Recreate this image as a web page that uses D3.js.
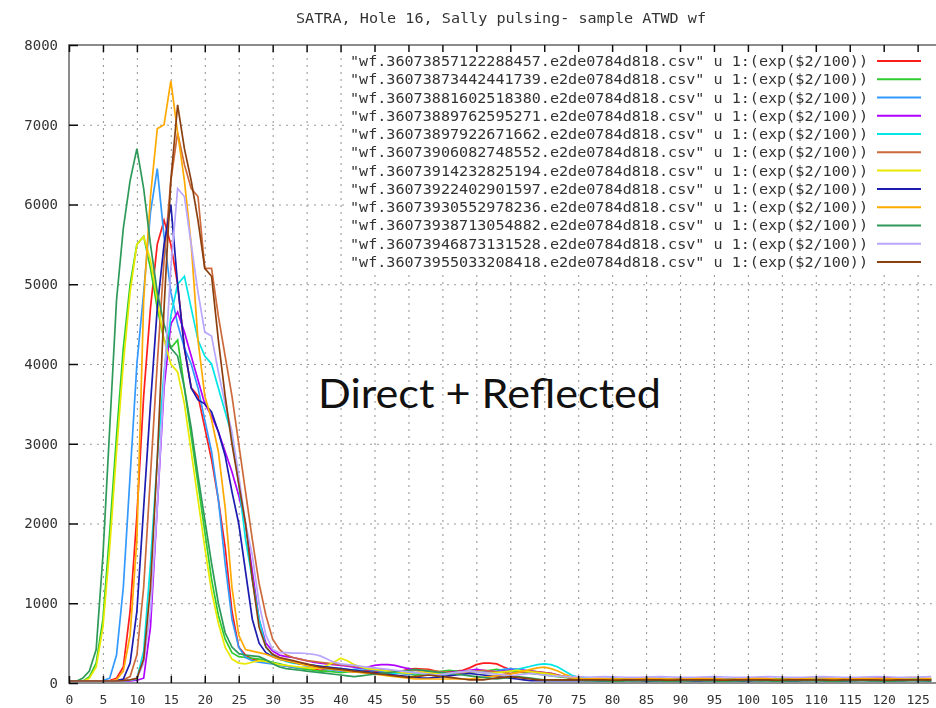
<!DOCTYPE html>
<html>
<head>
<meta charset="utf-8">
<script src="https://cdn.jsdelivr.net/npm/d3@7"></script>
<style>
  html, body { margin: 0; padding: 0; background: #fff; }
  svg { display: block; }
</style>
</head>
<body>
<svg id="chart" width="936" height="708"></svg>
<script>
// Tick positions for the two axes
const sampleTicks = d3.range(0, 126, 5);
const countTicks = d3.range(0, 8001, 1000);

const titleText = "SATRA, Hole 16, Sally pulsing- sample ATWD wf";
const noteText = "Direct + Reflected";

// Legend entries, one per waveform file
const fileNames = [
  "wf.36073857122288457.e2de0784d818.csv",
  "wf.36073873442441739.e2de0784d818.csv",
  "wf.36073881602518380.e2de0784d818.csv",
  "wf.36073889762595271.e2de0784d818.csv",
  "wf.36073897922671662.e2de0784d818.csv",
  "wf.36073906082748552.e2de0784d818.csv",
  "wf.36073914232825194.e2de0784d818.csv",
  "wf.36073922402901597.e2de0784d818.csv",
  "wf.36073930552978236.e2de0784d818.csv",
  "wf.36073938713054882.e2de0784d818.csv",
  "wf.36073946873131528.e2de0784d818.csv",
  "wf.36073955033208418.e2de0784d818.csv"
];
const usingSpec = "u 1:(exp($2/100))";

const seriesColors = [
  "#ff1a1a", "#2ecc2e", "#3399ff", "#b000ff", "#00e5e5", "#cd6a3a",
  "#e8e800", "#1a1ab0", "#ffaa00", "#2e9a5a", "#b9a6ff", "#8b4010"
];

// ATWD samples 0..127, value = exp(adc/100)
const wf01 = [20,20,20,20,20,20,30,60,
  200,900,2100,3600,4700,5500,5800,5500,5000,4200,3700,3600,3200,2800,2300,1700,900,450,350,300,280,270,
  250,230,210,200,190,180,170,160,170,180,160,150,140,150,160,150,140,130,140,150,170,180,175,170,150,130,140,150,160,190,230,250,250,240,200,170,150,140,130,120,110,100,90,80,70,60,
  55,50,50,45,45,50,55,50,45,40,40,45,50,55,60,55,50,45,40,40,45,50,50,55,60,65,60,55,50,45,45,50,55,60,60,55,50,50,45,45,50,55,60,65,70,65,60,55,50,50,45,45];
const wf02 = [20,20,20,80,250,800,
  1900,3100,4200,5000,5500,5600,5200,4700,4300,4200,4300,3700,3100,2500,1900,1300,850,550,380,330,320,310,300,280,
  260,240,220,200,180,170,160,150,150,140,130,140,150,140,130,120,110,120,130,120,110,100,110,120,130,150,160,150,140,130,140,150,160,170,160,150,140,130,120,110,100,90,80,70,60,55,
  50,45,45,40,40,45,50,45,40,35,35,40,45,50,45,40,35,35,40,45,50,45,40,35,35,40,45,50,55,50,45,40,35,35,40,45,50,45,40,35,35,40,45,50,55,50,45,40,40,45,50,55];
const wf03 = [20,20,20,20,20,30,
  60,350,1200,2600,4000,4900,5900,6450,5600,4900,4500,4200,4000,3700,3300,2900,2300,1500,800,450,320,280,260,250,
  240,220,210,200,190,200,210,190,170,160,150,160,170,180,170,160,150,140,130,120,110,120,130,120,110,100,110,120,130,140,150,140,130,150,170,180,170,160,150,140,120,100,90,80,70,60,
  55,50,50,55,60,55,50,45,45,50,55,60,55,50,45,45,50,55,60,60,55,50,45,45,50,55,50,45,40,40,45,50,55,55,50,45,45,50,55,60,55,50,45,45,50,55,60,55,50,45,45,50];
const wf04 = [20,20,20,20,20,20,20,20,20,25,35,
  60,700,2200,3700,4500,4650,4400,4100,3800,3500,3350,3150,2900,2650,2350,2000,1400,800,500,
  400,350,330,320,300,280,260,250,240,230,220,210,200,190,200,220,230,230,220,200,180,160,150,140,130,120,130,140,150,160,170,160,150,140,150,160,170,160,150,140,130,120,100,80,60,50,
  45,40,40,35,35,40,45,40,35,30,30,35,40,45,40,35,30,30,35,40,45,40,35,30,30,35,40,45,40,35,30,30,35,40,45,40,35,30,30,35,40,45,40,35,30,30,35,40,45,40,35,30];
const wf05 = [20,20,20,20,20,20,20,20,25,35,
  50,400,1500,2800,3900,4600,5000,5100,4700,4300,4100,4000,3700,3400,3100,2500,1800,1300,800,450,
  350,300,270,250,240,230,220,210,200,190,180,170,160,150,140,130,120,110,120,130,140,130,120,110,100,110,120,130,140,150,140,130,120,130,140,150,170,190,210,230,240,230,200,150,100,70,
  60,55,50,45,40,40,45,50,55,60,55,50,45,40,40,45,50,55,50,45,40,40,45,50,55,60,55,50,45,40,40,45,50,55,50,45,40,40,45,50,55,60,55,50,45,40,40,45,50,55,50,45];
const wf06 = [20,20,20,20,20,20,20,25,40,
  80,350,1200,2600,4000,5300,6300,6900,6500,6200,6100,5200,5200,4600,4100,3600,3000,2400,1800,1250,850,550,420,350,320,300,
  280,270,260,250,240,230,220,210,200,190,180,170,160,150,140,150,160,170,160,150,140,130,120,130,140,150,160,150,140,130,120,130,140,150,140,130,120,100,80,60,50,
  45,40,40,45,50,45,40,35,35,40,45,50,45,40,35,35,40,45,50,45,40,35,35,40,45,50,45,40,35,35,40,45,50,45,40,35,35,40,45,50,45,40,35,35,40,45,50,45,40,35,35,40];
const wf07 = [20,20,20,60,200,700,
  1700,2900,4000,4900,5500,5600,5300,4800,4300,4000,3900,3500,2900,2300,1700,1150,750,450,300,250,240,260,280,270,
  250,230,220,210,200,190,180,190,220,260,310,280,230,200,180,170,160,150,140,130,120,130,140,130,120,110,120,130,140,150,140,130,120,130,140,150,160,150,140,130,120,110,90,80,70,60,
  50,45,40,40,45,50,45,40,35,35,40,45,50,45,40,35,35,40,45,50,45,40,35,35,40,45,50,45,40,35,35,40,45,50,45,40,35,35,40,45,50,45,40,35,35,40,45,50,45,40,35,35];
const wf08 = [20,20,20,20,20,20,20,30,
  50,250,900,2200,3500,4700,5500,6000,5000,4200,3700,3550,3500,3400,3150,2850,2400,2000,1400,800,500,380,330,300,280,260,240,
  230,220,210,200,190,180,170,160,150,140,130,120,110,100,90,80,70,60,60,70,80,90,100,110,120,110,100,90,80,70,60,50,40,30,30,30,30,30,30,30,30,
  30,30,25,25,30,30,35,30,30,25,25,30,30,35,30,30,25,25,30,30,35,30,30,25,25,30,30,35,30,30,25,25,30,30,35,30,30,25,25,30,30,35,30,30,25,25,30,30,35,30,30,25];
const wf09 = [20,20,20,20,20,20,25,
  40,150,600,1800,4800,6100,6950,7000,7550,6900,6300,5500,4300,3600,3300,2900,2200,1200,600,420,400,380,360,
  330,300,280,260,240,220,200,190,180,170,160,150,140,130,120,110,100,90,80,70,60,50,50,50,50,50,50,50,50,50,60,70,80,90,100,110,130,150,170,190,200,180,150,110,80,60,
  50,55,60,55,50,45,50,55,60,65,60,55,50,45,50,55,60,65,60,55,50,45,50,55,60,65,60,55,50,45,50,55,60,65,70,65,60,55,50,55,60,65,60,55,50,55,60,65,70,65,60,55];
const wf10 = [20,20,60,150,420,
  1600,3200,4800,5700,6300,6700,6200,5500,4900,4500,4200,4100,3700,3200,2600,2050,1500,1000,630,450,370,350,340,330,290,
  240,200,180,170,160,150,140,130,120,110,100,90,80,90,100,110,120,130,140,150,160,170,160,150,140,130,120,110,100,90,80,70,60,50,60,70,80,70,60,50,40,40,40,40,40,40,
  30,30,25,25,20,20,25,25,30,30,25,25,20,20,25,25,30,30,25,25,20,20,25,25,30,30,25,25,20,20,25,25,30,30,25,25,20,20,25,25,30,30,25,25,20,20,25,25,30,30,25,25];
const wf11 = [20,20,20,20,20,20,20,20,25,35,
  60,250,900,2200,3800,5200,6200,6100,5500,4900,4400,4350,3900,3500,3150,2600,2000,1600,1000,600,
  420,380,380,375,375,370,360,340,300,260,240,230,220,210,200,190,180,170,160,150,140,130,120,110,100,110,120,130,140,150,140,130,120,110,100,90,100,110,120,110,100,90,85,80,80,80,
  75,75,78,80,78,75,72,70,72,75,78,80,78,75,72,70,72,75,78,80,78,75,72,70,72,75,78,80,78,75,72,70,72,75,78,80,78,75,72,70,72,75,78,80,78,75,72,70,72,75,78,80];
const wf12 = [25,25,25,25,25,25,25,25,30,40,
  60,300,1200,2800,4700,6300,7250,6700,6300,5800,5200,5100,4300,3600,3000,2500,2000,1300,700,450,
  360,320,300,280,260,240,220,200,190,180,170,160,150,140,130,120,110,100,90,80,70,80,90,100,90,80,70,60,50,40,40,40,50,60,70,80,70,60,50,40,40,40,40,40,40,40,
  40,40,38,38,36,36,38,38,40,40,38,38,36,36,38,38,40,40,38,38,36,36,38,38,40,40,38,38,36,36,38,38,40,40,38,38,36,36,38,38,40,40,38,38,36,36,38,38,40,40,38,38];

const waveforms = [wf01, wf02, wf03, wf04, wf05, wf06, wf07, wf08, wf09, wf10, wf11, wf12];

// ---- layout ----
const plotLeft = 69, plotRight = 938, plotTop = 45, plotBottom = 683;
const x = d3.scaleLinear().domain([0, 128]).range([plotLeft, plotRight]);
const y = d3.scaleLinear().domain([0, 8000]).range([plotBottom, plotTop]);
const monoFont = "'DejaVu Sans Mono', 'Liberation Mono', monospace";

const svg = d3.select("#chart");
const defs = svg.append("defs");
defs.append("filter").attr("id", "soft")
  .attr("x", "-5%").attr("y", "-5%").attr("width", "110%").attr("height", "110%")
  .append("feGaussianBlur").attr("stdDeviation", 0.45);
defs.append("clipPath").attr("id", "plotClip")
  .append("rect").attr("x", plotLeft).attr("y", plotTop - 1)
  .attr("width", plotRight - plotLeft).attr("height", plotBottom - plotTop + 1);

const fig = svg.append("g").attr("filter", "url(#soft)");
fig.append("rect").attr("width", 936).attr("height", 708).attr("fill", "#fff");

// title
fig.append("text")
  .attr("x", 501).attr("y", 23)
  .attr("text-anchor", "middle")
  .attr("font-family", monoFont).attr("font-size", 14)
  .attr("textLength", 410).attr("lengthAdjust", "spacingAndGlyphs")
  .attr("fill", "#333")
  .text(titleText);

// dotted grid
const gridStyle = g => {
  g.select(".domain").remove();
  g.selectAll(".tick line")
    .attr("stroke", "#9a9a9a").attr("stroke-width", 1.1)
    .attr("stroke-dasharray", "2,5");
};
fig.append("g")
  .attr("transform", `translate(0,${plotBottom})`)
  .call(d3.axisBottom(x).tickValues(sampleTicks.filter(d => d > 0))
    .tickSize(-(plotBottom - plotTop)).tickFormat(""))
  .call(gridStyle);
fig.append("g")
  .attr("transform", `translate(${plotLeft},0)`)
  .call(d3.axisLeft(y).tickValues(countTicks.filter(d => d > 0 && d < 8000))
    .tickSize(-(plotRight - plotLeft)).tickFormat(""))
  .call(gridStyle);

// key area is opaque over the grid
const keyTop = 51, keyStep = 18.27;
fig.append("rect")
  .attr("x", 345).attr("y", keyTop).attr("width", 600).attr("height", keyStep * 12 + 2)
  .attr("fill", "#fff");

// waveforms
const line = d3.line().x((d, i) => x(i)).y(d => y(d));
fig.append("g").attr("clip-path", "url(#plotClip)")
  .selectAll("path").data(waveforms).join("path")
  .attr("d", line)
  .attr("fill", "none")
  .attr("stroke", (d, i) => seriesColors[i])
  .attr("stroke-width", 1.7)
  .attr("stroke-linejoin", "miter");

// frame
const frame = fig.append("g").attr("stroke", "#8c8c8c").attr("stroke-width", 2).attr("fill", "none");
frame.append("path").attr("d", `M${plotRight},${plotTop}H${plotLeft}V${plotBottom}H${plotRight}`);

// axes with inward ticks
const axisStyle = size => g => {
  g.select(".domain").remove();
  g.selectAll(".tick line").attr("stroke", "#111").attr("stroke-width", 1.5);
  g.selectAll(".tick text")
    .attr("font-family", monoFont).attr("font-size", size)
    .attr("fill", "#333");
};
fig.append("g")
  .attr("transform", `translate(${plotLeft},0)`)
  .call(d3.axisLeft(y).tickValues(countTicks).tickFormat(d3.format("d"))
    .tickSize(-9).tickPadding(11))
  .call(axisStyle(14));
fig.append("g")
  .attr("transform", `translate(0,${plotBottom})`)
  .call(d3.axisBottom(x).tickValues(sampleTicks).tickFormat(d3.format("d"))
    .tickSize(-7).tickPadding(12))
  .call(axisStyle(13));
fig.append("g")
  .attr("transform", `translate(0,${plotTop})`)
  .call(d3.axisTop(x).tickValues(sampleTicks).tickSize(-7).tickFormat(""))
  .call(axisStyle(13));

// key
const key = fig.append("g");
fileNames.forEach((name, i) => {
  const cy = keyTop + 10 + i * keyStep;
  key.append("text")
    .attr("x", 868).attr("y", cy + 5)
    .attr("text-anchor", "end")
    .attr("font-family", monoFont).attr("font-size", 14)
    .attr("textLength", 518).attr("lengthAdjust", "spacingAndGlyphs")
    .attr("fill", "#333")
    .text(`"${name}" ${usingSpec}`);
  key.append("line")
    .attr("x1", 877).attr("x2", 921)
    .attr("y1", cy).attr("y2", cy)
    .attr("stroke", seriesColors[i]).attr("stroke-width", 2);
});

// annotation
svg.append("text")
  .attr("x", 318).attr("y", 408)
  .attr("font-family", "Lato, 'Open Sans', sans-serif").attr("font-size", 41)
  .attr("textLength", 343).attr("lengthAdjust", "spacingAndGlyphs")
  .attr("fill", "#111")
  .text(noteText);
</script>
</body>
</html>
